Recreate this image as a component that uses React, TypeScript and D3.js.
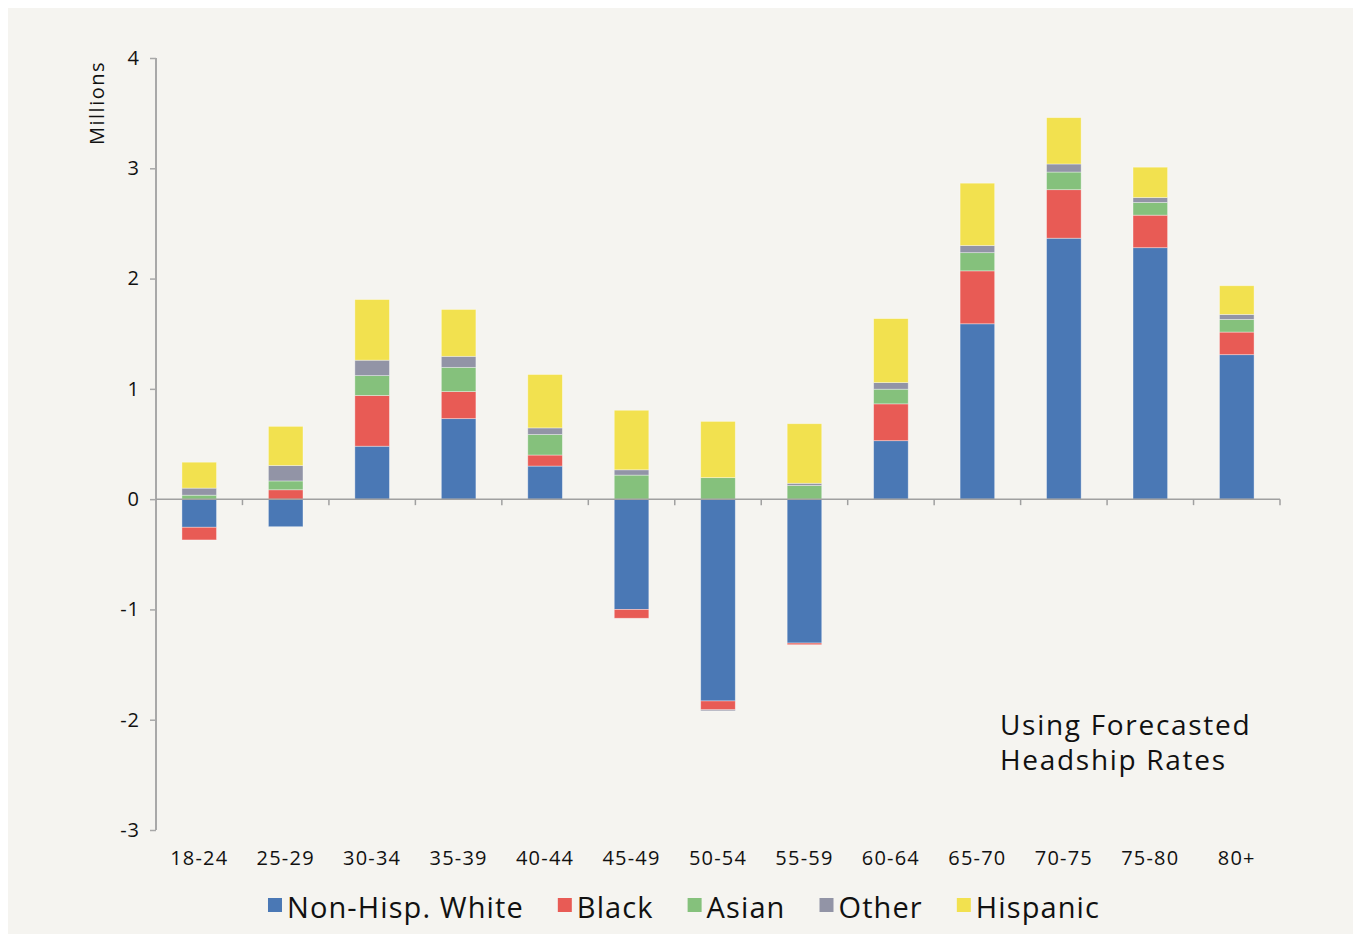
import { useEffect, useRef } from 'react'
import * as d3 from 'd3'

const ageGroups = ['18-24', '25-29', '30-34', '35-39', '40-44', '45-49', '50-54', '55-59', '60-64', '65-70', '70-75', '75-80', '80+']
const seriesNames = ['Non-Hisp. White', 'Black', 'Asian', 'Other', 'Hispanic']
const seriesColors = ['#4a78b5', '#e85b55', '#85c17c', '#9294a6', '#f2e14f']

// millions of households
const white = [-0.255, -0.25, 0.48, 0.73, 0.30, -1.0, -1.83, -1.305, 0.53, 1.59, 2.366, 2.28, 1.31]
const black = [-0.115, 0.085, 0.46, 0.245, 0.10, -0.08, -0.08, -0.015, 0.334, 0.48, 0.44, 0.295, 0.205]
const asian = [0.036, 0.08, 0.18, 0.22, 0.186, 0.218, 0.195, 0.124, 0.133, 0.165, 0.16, 0.115, 0.115]
const other = [0.064, 0.14, 0.14, 0.10, 0.06, 0.048, -0.01, 0.02, 0.06, 0.065, 0.073, 0.045, 0.045]
const hispanic = [0.235, 0.355, 0.55, 0.425, 0.484, 0.54, 0.51, 0.54, 0.58, 0.565, 0.42, 0.275, 0.26]
const yTicks = [-3, -2, -1, 0, 1, 2, 3, 4]

const FONT = '"Open Sans", sans-serif'

export default function App() {
  const svgRef = useRef<SVGSVGElement>(null)
  const width = 1345
  const height = 926

  useEffect(() => {
    if (!svgRef.current) return
    const svg = d3.select(svgRef.current)
    svg.selectAll('*').remove()

    const left = 148
    const right = 1272
    const top = 50
    const bottom = 822

    svg.append('rect').attr('width', width).attr('height', height).attr('fill', '#f5f4f0')

    const rows = ageGroups.map((g, i) => ({
      group: g,
      'Non-Hisp. White': white[i],
      Black: black[i],
      Asian: asian[i],
      Other: other[i],
      Hispanic: hispanic[i],
    }))

    const x = d3.scaleBand<string>().domain(ageGroups).range([left, right]).paddingInner(0.6).paddingOuter(0.3)
    const y = d3.scaleLinear().domain([-3, 4]).range([bottom, top])
    const color = d3.scaleOrdinal<string, string>().domain(seriesNames).range(seriesColors)

    const stacked = d3.stack<any>().keys(seriesNames).offset(d3.stackOffsetDiverging)(rows)

    // Bars
    svg
      .append('g')
      .selectAll('g')
      .data(stacked)
      .join('g')
      .attr('fill', (d) => color(d.key))
      .selectAll('rect')
      .data((d) => d)
      .join('rect')
      .attr('x', (d: any) => x(d.data.group)!)
      .attr('width', x.bandwidth())
      .attr('y', (d) => y(Math.max(d[0], d[1])))
      .attr('height', (d) => Math.abs(y(d[0]) - y(d[1])))
      .attr('stroke', 'rgba(255,255,255,0.45)')
      .attr('stroke-width', 0.8)

    // Y axis
    const yAxis = d3
      .axisLeft(y)
      .tickValues(yTicks)
      .tickSize(6)
      .tickPadding(10)
      .tickFormat((d) => `${d}`)
    const yg = svg.append('g').attr('transform', `translate(${left},0)`).call(yAxis)
    yg.select('.domain').remove()
    yg.selectAll('line').attr('stroke', '#a8a8a8').attr('stroke-width', 1.5)
    yg.selectAll('text')
      .attr('fill', '#111')
      .attr('font-family', FONT)
      .attr('font-size', 20)
      .attr('letter-spacing', 1)
    svg
      .append('line')
      .attr('x1', left)
      .attr('x2', left)
      .attr('y1', top)
      .attr('y2', bottom)
      .attr('stroke', '#a8a8a8')
      .attr('stroke-width', 2)

    // Zero line with category boundary ticks
    const step = x.step()
    svg
      .append('line')
      .attr('x1', left)
      .attr('x2', right)
      .attr('y1', y(0))
      .attr('y2', y(0))
      .attr('stroke', '#a0a0a0')
      .attr('stroke-width', 1.5)
    svg
      .append('g')
      .selectAll('line')
      .data(d3.range(1, ageGroups.length + 1))
      .join('line')
      .attr('x1', (k) => left + k * step)
      .attr('x2', (k) => left + k * step)
      .attr('y1', y(0))
      .attr('y2', y(0) + 6)
      .attr('stroke', '#a0a0a0')
      .attr('stroke-width', 1.5)

    // Category labels
    svg
      .append('g')
      .selectAll('text')
      .data(ageGroups)
      .join('text')
      .attr('x', (d) => x(d)! + x.bandwidth() / 2)
      .attr('y', bottom + 35)
      .attr('text-anchor', 'middle')
      .attr('fill', '#111')
      .attr('font-family', FONT)
      .attr('font-size', 20)
      .attr('letter-spacing', 1.2)
      .text((d) => d)

    // Y-axis title
    svg
      .append('text')
      .attr('transform', `translate(96,95) rotate(-90)`)
      .attr('text-anchor', 'middle')
      .attr('fill', '#111')
      .attr('font-family', FONT)
      .attr('font-size', 20)
      .attr('letter-spacing', 1.5)
      .text('Millions')

    // Annotation
    const noteLines = ['Using Forecasted', 'Headship Rates']
    svg
      .append('g')
      .selectAll('text')
      .data(noteLines)
      .join('text')
      .attr('x', 992)
      .attr('y', (_, i) => 727 + i * 35)
      .attr('fill', '#111')
      .attr('font-family', FONT)
      .attr('font-size', 28)
      .attr('letter-spacing', 1.7)
      .text((d) => d)

    // Legend
    const legend = svg.append('g')
    let cursor = 0
    seriesNames.forEach((name) => {
      const item = legend.append('g').attr('transform', `translate(${cursor},0)`)
      item.append('rect').attr('x', 0).attr('y', -20).attr('width', 14).attr('height', 14).attr('fill', color(name))
      const t = item
        .append('text')
        .attr('x', 19)
        .attr('y', 0)
        .attr('fill', '#111')
        .attr('font-family', FONT)
        .attr('font-size', 29)
        .attr('letter-spacing', 1.1)
        .text(name)
      const w = (t.node() as SVGTextElement).getComputedTextLength()
      cursor += 19 + w + 34
    })
    const total = cursor - 34
    legend.attr('transform', `translate(${676 - total / 2},${910})`)
  }, [])

  return (
    <svg
      ref={svgRef}
      width={width}
      height={height}
      style={{ position: 'fixed', left: 8, top: 8, display: 'block' }}
    />
  )
}
